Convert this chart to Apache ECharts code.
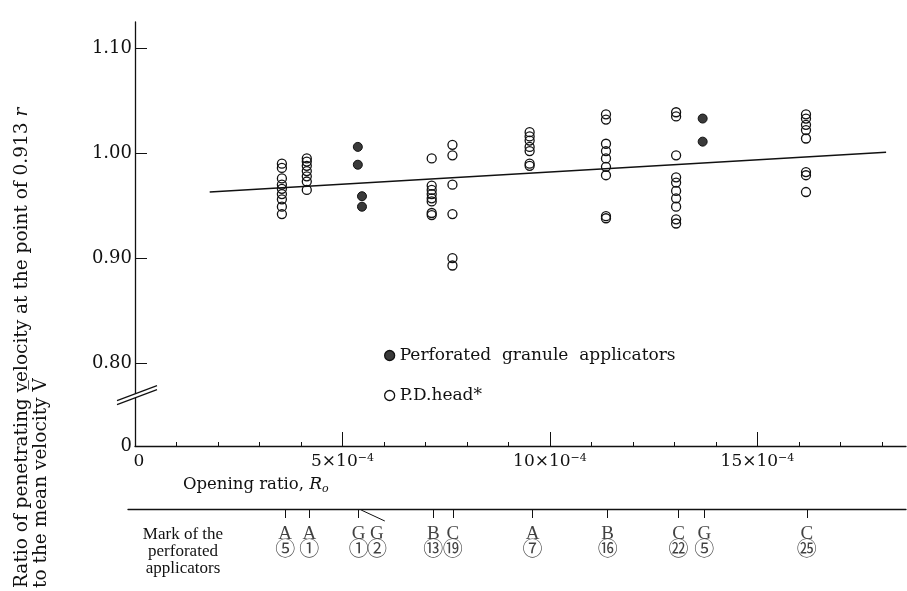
<!DOCTYPE html>
<html>
<head>
<meta charset="utf-8">
<script src="https://cdn.jsdelivr.net/npm/echarts@6/dist/echarts.min.js"></script>
<style>
  html, body { margin: 0; padding: 0; background: #fff; }
  #chart { width: 907px; height: 591px; }
</style>
</head>
<body>
<div id="chart"></div>
<script>
// Opening ratio in units of 1e-4; velocity ratio v(0.913r)/V̄
const X_MAX = 18.58;
const Y_MIN = 0.721;            // foot of the broken axis, labelled "0"
const Y_MAX = 1.125;

// P.D. head measurements, one column per applicator
const pdOpening = [3.54, 4.14, 7.15, 7.65, 9.51, 11.35, 13.04, 16.17];
const pdRatios = [
  [0.990, 0.986, 0.976, 0.970, 0.966, 0.961, 0.956, 0.949, 0.942],
  [0.995, 0.992, 0.988, 0.983, 0.978, 0.973, 0.965],
  [0.995, 0.969, 0.965, 0.961, 0.957, 0.954, 0.943, 0.941],
  [1.008, 0.998, 0.970, 0.942, 0.900, 0.893],
  [1.020, 1.016, 1.012, 1.006, 1.002, 0.990, 0.988],
  [1.037, 1.032, 1.009, 1.002, 0.995, 0.987, 0.979, 0.940, 0.938],
  [1.039, 1.035, 0.998, 0.977, 0.972, 0.964, 0.957, 0.949, 0.937, 0.933],
  [1.037, 1.033, 1.027, 1.022, 1.014, 0.982, 0.979, 0.963]
];

// Perforated granule applicators
const pgOpening = [5.37, 5.47, 13.68];
const pgRatios = [
  [1.006, 0.989],
  [0.959, 0.949],
  [1.033, 1.011]
];

// Fitted line
const fitOpening = [1.8, 18.1];
const fitRatio = [0.963, 1.001];

// Axis ticks
const yTicks = [0.80, 0.90, 1.00, 1.10];
const xMajor = [5, 10, 15];
const xMinor = [1, 2, 3, 4, 6, 7, 8, 9, 11, 12, 13, 14, 16, 17, 18];

// Applicator marks along the opening-ratio scale
const markOpening = [3.62, 4.20, 5.39, 5.83, 7.19, 7.66, 9.58, 11.39, 13.10, 13.72, 16.19];
const markType = ['A', 'A', 'G', 'G', 'B', 'C', 'A', 'B', 'C', 'G', 'C'];
const markNo = ['⑤', '①', '①', '②', '⑬', '⑲', '⑦', '⑯', '㉒', '⑤', '㉕'];
const markTicks = [3.62, 4.20, 5.39, 7.19, 7.66, 9.58, 11.39, 13.10, 13.72, 16.19];
const leaderX = [5.45, 6.02];

const SERIF = "'DejaVu Serif', 'Liberation Serif', 'Noto Sans CJK JP', serif";
const SERIF2 = "'Liberation Serif', 'Noto Sans CJK JP', serif";

function columns(xs, ys) {
  const out = [];
  xs.forEach((x, i) => ys[i].forEach(v => out.push([x, v])));
  return out;
}

const chart = echarts.init(document.getElementById('chart'), null, { renderer: 'canvas' });

const option = {
  backgroundColor: '#fff',
  animation: false,
  grid: [
    { left: 135, right: 1, top: 22, bottom: 145 },
    { left: 128, right: 1, top: 509, height: 70 }
  ],
  xAxis: [
    {
      gridIndex: 0, type: 'value', min: 0, max: X_MAX,
      axisLine: { show: true, onZero: false, lineStyle: { color: '#111', width: 1.3 } },
      axisTick: { show: true, inside: true, length: 4, customValues: xMinor, lineStyle: { color: '#111' } },
      axisLabel: { show: false },
      splitLine: { show: false }
    },
    {
      gridIndex: 0, type: 'value', min: 0, max: X_MAX, position: 'bottom',
      axisLine: { show: false },
      axisTick: { show: true, inside: true, length: 14, customValues: xMajor, lineStyle: { color: '#111' } },
      axisLabel: {
        show: true, customValues: [0].concat(xMajor), margin: 7,
        formatter: v => v === 0 ? '{z|0}' : '{b|' + v + '×10}{s|−4}',
        rich: {
          z: { fontFamily: SERIF, fontSize: 17, color: '#111', padding: [0, 0, 0, 8] },
          b: { fontFamily: SERIF, fontSize: 17, color: '#111' },
          s: { fontFamily: SERIF, fontSize: 11, color: '#111', verticalAlign: 'top', padding: [0, 0, 6, 0] }
        }
      },
      splitLine: { show: false }
    },
    {
      gridIndex: 1, type: 'value', min: -7 * X_MAX / 771, max: X_MAX, position: 'top',
      axisLine: { show: true, onZero: false, lineStyle: { color: '#111', width: 1.3 } },
      axisTick: { show: true, inside: true, length: 9, customValues: markTicks, lineStyle: { color: '#111' } },
      axisLabel: { show: false },
      splitLine: { show: false }
    }
  ],
  yAxis: [
    {
      gridIndex: 0, type: 'value', min: Y_MIN, max: Y_MAX,
      axisLine: { show: true, lineStyle: { color: '#111', width: 1.3 } },
      axisTick: { show: true, inside: true, length: 12, customValues: yTicks, lineStyle: { color: '#111' } },
      axisLabel: {
        show: true, margin: 3, customValues: [Y_MIN].concat(yTicks),
        showMinLabel: true, showMaxLabel: true,
        formatter: v => v < 0.75 ? '0' : v.toFixed(2),
        fontFamily: SERIF, fontSize: 18, color: '#111'
      },
      splitLine: { show: false }
    },
    { gridIndex: 1, type: 'value', min: 0, max: 70, inverse: true, show: false }
  ],
  legend: {
    orient: 'vertical', left: 379, top: 342, itemGap: 23,
    itemWidth: 10, itemHeight: 10, itemStyle: { borderWidth: 1.3 },
    textStyle: { fontFamily: SERIF, fontSize: 17, lineHeight: 17, color: '#111' },
    data: [
      { name: 'Perforated  granule  applicators', icon: 'circle' },
      { name: 'P.D.head*', icon: 'circle' }
    ]
  },
  series: [
    {
      name: 'Fit', type: 'line', xAxisIndex: 0, yAxisIndex: 0,
      data: fitOpening.map((x, i) => [x, fitRatio[i]]),
      symbol: 'none', lineStyle: { color: '#111', width: 1.5 }, z: 1
    },
    {
      name: 'P.D.head*', type: 'scatter', xAxisIndex: 0, yAxisIndex: 0,
      data: columns(pdOpening, pdRatios),
      symbol: 'circle', symbolSize: 9,
      itemStyle: { color: 'rgba(255,255,255,0)', borderColor: '#111', borderWidth: 1.3, opacity: 1 },
      z: 3
    },
    {
      name: 'Perforated  granule  applicators', type: 'scatter', xAxisIndex: 0, yAxisIndex: 0,
      data: columns(pgOpening, pgRatios),
      symbol: 'circle', symbolSize: 9,
      itemStyle: { color: '#3a3a3a', borderColor: '#111', borderWidth: 1, opacity: 1 },
      z: 3
    },
    {
      name: 'Marks', type: 'scatter', xAxisIndex: 2, yAxisIndex: 1,
      data: markOpening.map((x, i) => [x, 34, i]),
      symbolSize: 0, silent: true,
      label: {
        show: true, position: 'inside',
        formatter: p => '{l|' + markType[p.data[2]] + '}\n{n|' + markNo[p.data[2]] + '}',
        rich: {
          l: { fontFamily: SERIF2, fontSize: 19, lineHeight: 16, color: '#111', align: 'center' },
          n: { fontFamily: SERIF2, fontSize: 20, lineHeight: 18, color: '#111', align: 'center' }
        }
      }
    },
    {
      name: 'Leader', type: 'line', xAxisIndex: 2, yAxisIndex: 1,
      data: [[leaderX[0], 1], [leaderX[1], 12]],
      symbol: 'none', lineStyle: { color: '#111', width: 1 }, silent: true
    }
  ]
};

chart.setOption(option);

// Break symbol on the ordinate, plus titles
const axisX = chart.convertToPixel({ xAxisIndex: 0 }, 0);
const breakY = chart.convertToPixel({ yAxisIndex: 0 }, 0.770);

chart.setOption({
  graphic: [
    {
      type: 'polygon', z: 50,
      shape: { points: [[axisX - 18, breakY + 6], [axisX + 22, breakY - 9], [axisX + 22, breakY - 5], [axisX - 18, breakY + 10]] },
      style: { fill: '#fff' }
    },
    {
      type: 'line', z: 51,
      shape: { x1: axisX - 18, y1: breakY + 6, x2: axisX + 22, y2: breakY - 9 },
      style: { stroke: '#111', lineWidth: 1.2 }
    },
    {
      type: 'line', z: 51,
      shape: { x1: axisX - 18, y1: breakY + 10, x2: axisX + 22, y2: breakY - 5 },
      style: { stroke: '#111', lineWidth: 1.2 }
    },
    {
      type: 'text', x: 22, y: 588, rotation: Math.PI / 2,
      style: {
        text: '{a|Ratio of penetrating velocity at the point of 0.913 }{i|r}',
        align: 'left', verticalAlign: 'middle',
        rich: {
          a: { fontFamily: SERIF, fontSize: 18.5, fill: '#111' },
          i: { fontFamily: SERIF, fontSize: 18.5, fontStyle: 'italic', fill: '#111' }
        }
      }
    },
    {
      type: 'text', x: 41, y: 588, rotation: Math.PI / 2,
      style: {
        text: 'to the mean velocity V\u0305',
        align: 'left', verticalAlign: 'middle',
        fontFamily: SERIF, fontSize: 18.5, fill: '#111'
      }
    },
    {
      type: 'text', x: 183, y: 485,
      style: {
        text: '{n|Opening ratio, }{i|R}{s|o}',
        align: 'left', verticalAlign: 'middle',
        rich: {
          n: { fontFamily: SERIF, fontSize: 16.5, fill: '#111', lineHeight: 20, verticalAlign: 'middle' },
          i: { fontFamily: SERIF, fontSize: 17, fontStyle: 'italic', fill: '#111', lineHeight: 20, verticalAlign: 'middle' },
          s: { fontFamily: SERIF, fontSize: 11, fontStyle: 'italic', fill: '#111', lineHeight: 20, verticalAlign: 'bottom' }
        }
      }
    },
    {
      type: 'text', x: 183, y: 552,
      style: {
        text: 'Mark of the\nperforated\napplicators',
        align: 'center', verticalAlign: 'middle',
        fontFamily: SERIF2, fontSize: 17, lineHeight: 17, fill: '#111'
      }
    }
  ]
});
</script>
</body>
</html>
